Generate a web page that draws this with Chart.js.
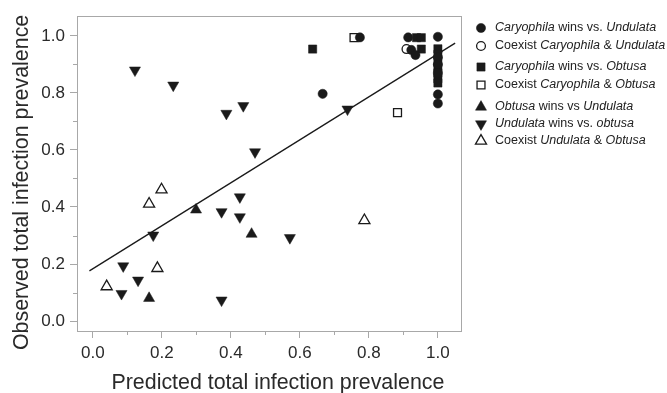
<!DOCTYPE html>
<html>
<head>
<meta charset="utf-8">
<script src="https://cdn.jsdelivr.net/npm/chart.js@4/dist/chart.umd.min.js"></script>
<style>
  html, body { margin: 0; padding: 0; background: #fff; }
  #wrap { width: 667px; height: 393px; }
</style>
</head>
<body>
<div id="wrap"><canvas id="myChart" width="667" height="393"></canvas></div>
<script>
// values
const carWinsUndX = [0.774, 0.666, 0.914, 0.923, 0.935, 1.0, 1.0, 1.0, 1.0, 1.0, 1.0];
const carWinsUndY = [0.995, 0.797, 0.995, 0.951, 0.933, 0.997, 0.925, 0.90, 0.87, 0.795, 0.763];
const coexCarUndX = [0.909];
const coexCarUndY = [0.954];
const carWinsObtX = [0.637, 0.938, 0.952, 0.952, 1.0, 1.0, 1.0, 1.0, 1.0, 1.0, 1.0];
const carWinsObtY = [0.954, 0.994, 0.994, 0.954, 0.955, 0.935, 0.91, 0.89, 0.87, 0.85, 0.835];
const coexCarObtX = [0.757, 0.883];
const coexCarObtY = [0.994, 0.731];
const obtWinsUndX = [0.163, 0.299, 0.46];
const obtWinsUndY = [0.08, 0.39, 0.305];
const undWinsObtX = [0.122, 0.233, 0.387, 0.436, 0.47, 0.738, 0.088, 0.083, 0.131, 0.175, 0.373, 0.426, 0.426, 0.373, 0.571];
const undWinsObtY = [0.88, 0.827, 0.728, 0.755, 0.593, 0.743, 0.193, 0.096, 0.143, 0.301, 0.383, 0.435, 0.365, 0.073, 0.292];
const coexUndObtX = [0.04, 0.163, 0.199, 0.187, 0.787];
const coexUndObtY = [0.121, 0.411, 0.461, 0.185, 0.353];
const fitX = [-0.01, 1.05];
const fitY = [0.176, 0.975];
const tickVals = [0, 0.2, 0.4, 0.6, 0.8, 1.0];
const minorVals = [0.1, 0.3, 0.5, 0.7, 0.9];

const legendLabels = [
  [["Caryophila", true], [" wins vs. ", false], ["Undulata", true]],
  [["Coexist ", false], ["Caryophila", true], [" & ", false], ["Undulata", true]],
  [["Caryophila", true], [" wins vs. ", false], ["Obtusa", true]],
  [["Coexist ", false], ["Caryophila", true], [" & ", false], ["Obtusa", true]],
  [["Obtusa", true], [" wins vs ", false], ["Undulata", true]],
  [["Undulata", true], [" wins vs. ", false], ["obtusa", true]],
  [["Coexist ", false], ["Undulata", true], [" & ", false], ["Obtusa", true]]
];

const ink = '#1a1a1a';
const axisGray = '#a8a8a8';
const fontFam = '"Liberation Sans", Arial, Helvetica, sans-serif';

function pts(xs, ys) {
  return xs.map((x, i) => ({ x: x, y: ys[i] }));
}

function markers(xs, ys, style, filled, radius, rotation) {
  return {
    type: 'scatter',
    data: pts(xs, ys),
    pointStyle: style,
    rotation: rotation || 0,
    pointRadius: radius,
    pointBackgroundColor: filled ? ink : '#fff',
    pointBorderColor: ink,
    pointBorderWidth: filled ? 0.5 : 1.3
  };
}

const datasets = [
  markers(carWinsUndX, carWinsUndY, 'circle', true, 4.6),
  markers(coexCarUndX, coexCarUndY, 'circle', false, 4.4),
  markers(carWinsObtX, carWinsObtY, 'rect', true, 5.8),
  markers(coexCarObtX, coexCarObtY, 'rect', false, 5.6),
  markers(obtWinsUndX, obtWinsUndY, 'triangle', true, 6.4),
  markers(undWinsObtX, undWinsObtY, 'triangle', true, 6.4, 180),
  markers(coexUndObtX, coexUndObtY, 'triangle', false, 6.4)
];
datasets.push({
  type: 'line',
  data: pts(fitX, fitY),
  borderColor: ink,
  borderWidth: 1.3,
  pointRadius: 0,
  fill: false
});

// box, minor ticks and the legend
const extras = {
  id: 'extras',
  afterDraw(chart) {
    const ctx = chart.ctx;
    const a = chart.chartArea;
    const xs = chart.scales.x, ys = chart.scales.y;
    ctx.save();
    ctx.strokeStyle = axisGray;
    ctx.lineWidth = 1;
    ctx.strokeRect(a.left + 0.5, a.top + 0.5, a.right - a.left, a.bottom - a.top);
    ctx.beginPath();
    minorVals.forEach(v => {
      const px = Math.round(xs.getPixelForValue(v)) + 0.5;
      ctx.moveTo(px, a.bottom);
      ctx.lineTo(px, a.bottom + 4);
      const py = Math.round(ys.getPixelForValue(v)) + 0.5;
      ctx.moveTo(a.left, py);
      ctx.lineTo(a.left - 4, py);
    });
    ctx.stroke();

    // legend
    const rowY = [28, 46, 67, 85, 107, 124, 141];
    const mx = 481, tx = 495;
    ctx.textBaseline = 'middle';
    legendLabels.forEach((parts, i) => {
      const ds = chart.data.datasets[i];
      ctx.fillStyle = ds.pointBackgroundColor;
      ctx.strokeStyle = ds.pointBorderColor;
      ctx.lineWidth = ds.pointBorderWidth;
      Chart.helpers.drawPoint(ctx, {
        pointStyle: ds.pointStyle,
        rotation: ds.rotation,
        radius: ds.pointRadius,
        borderWidth: ds.pointBorderWidth
      }, mx, rowY[i]);
      let x = tx;
      ctx.fillStyle = '#222';
      parts.forEach(([t, it]) => {
        ctx.font = (it ? 'italic ' : '') + '12.5px ' + fontFam;
        ctx.fillText(t, x, rowY[i]);
        x += ctx.measureText(t).width;
      });
    });
    ctx.restore();
  }
};

function axis(min, max, title, isX) {
  return {
    type: 'linear',
    min: min,
    max: max,
    afterBuildTicks: s => { s.ticks = tickVals.map(v => ({ value: v })); },
    afterFit: s => { if (isX) s.height = 62; else s.width = 77; },
    grid: { drawOnChartArea: false, drawTicks: true, tickLength: 7, color: axisGray, tickColor: axisGray },
    border: { display: true, color: axisGray },
    ticks: {
      color: '#2a2a2a',
      padding: 5,
      maxRotation: 0,
      font: { family: fontFam, size: 17 },
      callback: v => Number(v).toFixed(1)
    },
    title: {
      display: true,
      text: title,
      color: '#2a2a2a',
      font: { family: fontFam, size: 21.4 },
      padding: isX ? { top: 0, bottom: -3 } : { top: 9, bottom: 0 }
    }
  };
}

new Chart(document.querySelector('#myChart'), {
  type: 'scatter',
  data: { datasets: datasets },
  options: {
    responsive: false,
    animation: false,
    layout: { padding: { top: 16, right: 206, left: 0, bottom: 0 } },
    plugins: { legend: { display: false }, tooltip: { enabled: false } },
    scales: {
      // the printed titles sit a little off the plot centre
      x: axis(-0.046, 1.067, '   Predicted total infection prevalence', true),
      y: axis(-0.035, 1.07, 'Observed total infection prevalence   ', false)
    }
  },
  plugins: [extras]
});
</script>
</body>
</html>
